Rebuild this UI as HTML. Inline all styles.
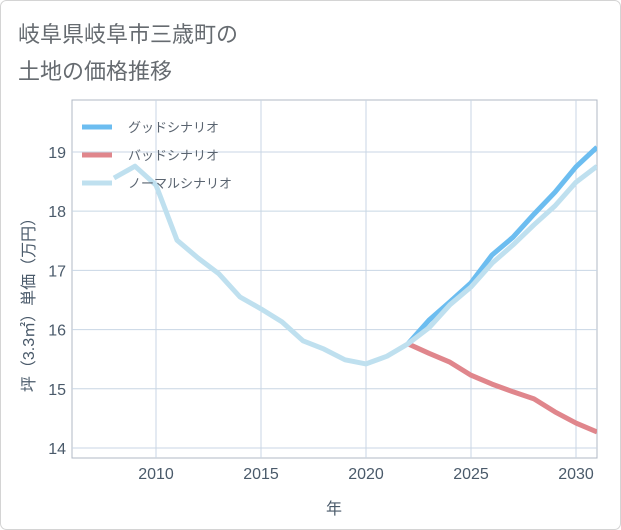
<!DOCTYPE html>
<html><head><meta charset="utf-8"><style>
body{margin:0;background:#fff;}
svg{display:block;font-family:"Liberation Sans","Noto Sans CJK JP",sans-serif;}
</style></head><body>
<svg id="chart" width="621" height="530">
<rect x="0.5" y="0.5" width="620" height="529" rx="6" fill="#fff" stroke="#d4d4d4"/>
<text x="18" y="42" font-size="22" fill="#666b70">岐阜県岐阜市三歳町の</text>
<text x="18" y="79" font-size="22" fill="#666b70">土地の価格推移</text>
<g id="grid"></g>
<g id="series"></g>
<g id="legend"></g>
<text x="334" y="514" font-size="16" fill="#4a5a6a" text-anchor="middle">年</text>
<text transform="translate(34,301) rotate(-90)" font-size="16" fill="#4a5a6a" text-anchor="middle">坪（3.3㎡）単価（万円）</text>
</svg>
<script>
const years = [2008,2009,2010,2011,2012,2013,2014,2015,2016,2017,2018,2019,2020,2021,2022,2023,2024,2025,2026,2027,2028,2029,2030,2031];
const normalValues = [18.56,18.76,18.44,17.51,17.21,16.94,16.55,16.35,16.13,15.81,15.67,15.49,15.42,15.55,15.76,16.03,16.42,16.72,17.12,17.43,17.77,18.09,18.49,18.76];
const futureYears = [2022,2023,2024,2025,2026,2027,2028,2029,2030,2031];
const goodValues = [15.76,16.16,16.47,16.79,17.26,17.56,17.95,18.32,18.75,19.08];
const badValues = [15.76,15.6,15.45,15.23,15.08,14.95,14.83,14.61,14.42,14.27];
const xTicks = [2010,2015,2020,2025,2030];
const yTicks = [14,15,16,17,18,19];
const seriesNames = ["グッドシナリオ","バッドシナリオ","ノーマルシナリオ"];

const L=72,R=597,T=100,B=458;
const X0=2006,X1=2031,Y0=13.831,Y1=19.878;
const xs=v=>L+(v-X0)/(X1-X0)*(R-L);
const ys=v=>B-(v-Y0)/(Y1-Y0)*(B-T);
const NS="http://www.w3.org/2000/svg";
function mk(tag,attrs,parent){const e=document.createElementNS(NS,tag);for(const k in attrs)e.setAttribute(k,attrs[k]);parent.appendChild(e);return e;}
const grid=document.getElementById('grid');
const bg=mk('rect',{x:L,y:T,width:R-L,height:B-T,fill:'#fff',stroke:'#b0b8c4'},grid);


xTicks.forEach(t=>{
  const l=mk('line',{x1:xs(t),x2:xs(t),y1:T,y2:B,stroke:'#c8d6e4','stroke-width':1},grid);
  
  
  const tx=mk('text',{x:xs(t),y:B+21,'font-size':16,fill:'#4a5a6a','text-anchor':'middle'},grid);
  tx.textContent=t;
  
  
});
yTicks.forEach(t=>{
  const l=mk('line',{x1:L,x2:R,y1:ys(t),y2:ys(t),stroke:'#c8d6e4','stroke-width':1},grid);
  
  
  const tx=mk('text',{x:L-6,y:ys(t)+6,'font-size':16,fill:'#4a5a6a','text-anchor':'end'},grid);
  tx.textContent=t;
  
  
});
const sg=document.getElementById('series');
function line(xv,yv,color,name){
  const d=xv.map((x,i)=>(i?'L':'M')+xs(x).toFixed(1)+','+ys(yv[i]).toFixed(1)).join('');
  const p=mk('path',{d:d,fill:'none',stroke:color,'stroke-width':5,'stroke-linejoin':'round','clip-path':'url(#clip)'},sg);
  
  
}
const defs=mk('defs',{},sg);
const cp=mk('clipPath',{id:'clip'},defs);
mk('rect',{x:L,y:T,width:R-L,height:B-T},cp);
line(futureYears,badValues,'#e0868c','bad-scenario-line');
line(futureYears,goodValues,'#6cbdf0','good-scenario-line');
line(years,normalValues,'#bfe0ef','normal-scenario-line');
const lg=document.getElementById('legend');
const colors=['#6cbdf0','#e0868c','#bfe0ef'];
const lnames=['legend-good','legend-bad','legend-normal'];
seriesNames.forEach((n,i)=>{
  const y=127+i*28;
  const l=mk('line',{x1:82,x2:112,y1:y,y2:y,stroke:colors[i],'stroke-width':5},lg);
  
  
  const t=mk('text',{x:128,y:y+5,'font-size':13,fill:'#5a6470'},lg);
  t.textContent=n;
  
  
});
</script>
</body></html>
